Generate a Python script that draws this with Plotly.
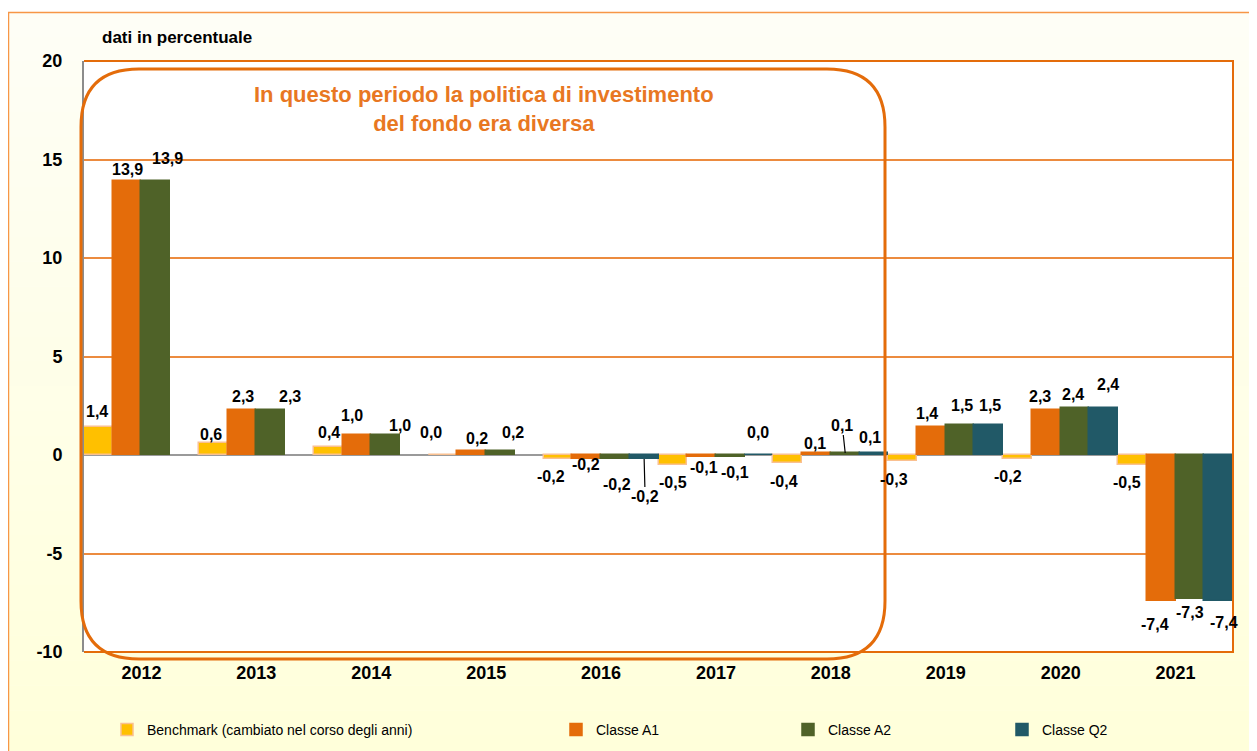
import plotly.graph_objects as go

years = ["2012", "2013", "2014", "2015", "2016", "2017", "2018", "2019", "2020", "2021"]
benchmark = [1.4, 0.6, 0.4, 0.0, -0.2, -0.5, -0.4, -0.3, -0.2, -0.5]
classe_a1 = [13.9, 2.3, 1.0, 0.2, -0.2, -0.1, 0.1, 1.4, 2.3, -7.4]
classe_a2 = [13.9, 2.3, 1.0, 0.2, -0.2, -0.1, 0.1, 1.5, 2.4, -7.3]
classe_q2 = [None, None, None, None, -0.2, 0.0, 0.1, 1.5, 2.4, -7.4]
y_ticks = [-10, -5, 0, 5, 10, 15, 20]
y_tick_labels = ["-10", "-5", "0", "5", "10", "15", "20"]

series_names = ["Benchmark (cambiato nel corso degli anni)", "Classe A1", "Classe A2", "Classe Q2"]
series_vals = [benchmark, classe_a1, classe_a2, classe_q2]

# ---- styling (not data) ----
fill_cols = ["#FFC000", "#E46C0A", "#4F6228", "#215967"]
line_cols = ["#FAC090", "#E46C0A", "#4F6228", "#215967"]
legend_ids = ["legend", "legend2", "legend3", "legend4"]
# label nudges in pixels (dx right, dy down) relative to the bar end, per series/year
label_nudges = [
    [(-1, -16), (-2, -9), (1, -15), (-12, -23), (-7, 18), (0, 18), (-4, 19), (-9, 19), (-10, 18), (-5, 18)],
    [(0, -12), (1, -13), (-5, -20), (5, -13), (-1, 6), (2, 11), (-1, -10), (-4, -14), (-6, -13), (-6, 24)],
    [(12, -23), (19, -13), (14, -10), (12, -19), (2, 26), (5, 16), (-3, -28), (2, -20), (-2, -13), (0, 14)],
    [(0, 0), (0, 0), (0, 0), (0, 0), (1, 38), (-1, -23), (-4, -16), (1, -20), (4, -23), (5, 22)],
]
leader_lines = {(3, 4), (2, 6)}

OFF = 8  # page body margin
W, H = 1257 - OFF, 751 - OFF
L, R, T, B = 84, 1233, 61, 652  # page pixels of the plot area
FONT = "Liberation Sans, Arial, sans-serif"
ORANGE = "#E46C0A"


def px_x(p):
    return (p - L) / (R - L)


def px_y(p):
    return (B - p) / (B - T)


fig = go.Figure()
for name, vals, fc, lc, lg in zip(series_names, series_vals, fill_cols, line_cols, legend_ids):
    fig.add_trace(go.Bar(
        x=years, y=vals, name=name,
        marker=dict(color=fc, line=dict(color=lc, width=1.5)),
        legend=lg,
    ))

n_cats = len(years)
n_series = len(series_vals)
cat_w = (R - L) / n_cats
bar_w = cat_w / n_series

annotations = []
for k, vals in enumerate(series_vals):
    for i, v in enumerate(vals):
        if v is None:
            continue
        dx, dy = label_nudges[k][i]
        slot = bar_w * (k - (n_series - 1) / 2)
        txt = ("%.1f" % v).replace(".", ",")
        fnt = dict(family=FONT, size=16, color="#000000", weight="bold")
        # x given as the category index of years[i]
        if (k, i) in leader_lines:
            annotations.append(dict(x=i, y=v, xref="x", yref="y", text=txt, xshift=slot,
                                    showarrow=True, ax=dx, ay=dy, arrowhead=0, arrowwidth=1.2,
                                    arrowcolor="#000000", standoff=0, font=fnt))
        else:
            annotations.append(dict(x=i, y=v, xref="x", yref="y", text=txt,
                                    xshift=slot + dx, yshift=-dy, showarrow=False,
                                    xanchor="center", yanchor="middle", font=fnt))

shapes = []
# outer light yellow panel with vertical gradient
n_bands = 30
top_px, bot_px = 12, 760
c_top = (254, 254, 246)
c_bot = (255, 255, 218)
for i in range(n_bands):
    y0 = top_px + (bot_px - top_px) * i / n_bands
    y1 = top_px + (bot_px - top_px) * (i + 1) / n_bands
    t = i / (n_bands - 1)
    col = "rgb(%d,%d,%d)" % tuple(round(a + (b - a) * t) for a, b in zip(c_top, c_bot))
    shapes.append(dict(type="rect", xref="paper", yref="paper", layer="below",
                       x0=px_x(8), x1=px_x(1265), y0=px_y(y1 + 0.5), y1=px_y(y0),
                       fillcolor=col, line=dict(width=0)))
# white plot area on top of the panel
shapes.append(dict(type="rect", xref="paper", yref="paper", layer="below",
                   x0=0, x1=1, y0=0, y1=1, fillcolor="#FFFFFF", line=dict(width=0)))
# outer frame (left and top lines)
shapes.append(dict(type="path", xref="paper", yref="paper", layer="below",
                   path="M %f,%f L %f,%f L %f,%f" % (px_x(8.5), px_y(760), px_x(8.5), px_y(12.5), px_x(1265), px_y(12.5)),
                   line=dict(color="#F79646", width=1.5)))
# plot frame: top, right, bottom in orange
shapes.append(dict(type="path", xref="paper", yref="paper", layer="above",
                   path="M %f,%f L %f,%f L %f,%f L %f,%f" % (0, 1, 1, 1, 1, 0, 0, 0),
                   line=dict(color=ORANGE, width=2)))
# rounded rectangle highlight
x0, x1, y0, y1, r = 81, 885, 69, 659, 58
path = "M %f,%f" % (px_x(x0 + r), px_y(y0))
path += " L %f,%f" % (px_x(x1 - r), px_y(y0))
path += " Q %f,%f %f,%f" % (px_x(x1), px_y(y0), px_x(x1), px_y(y0 + r))
path += " L %f,%f" % (px_x(x1), px_y(y1 - r))
path += " Q %f,%f %f,%f" % (px_x(x1), px_y(y1), px_x(x1 - r), px_y(y1))
path += " L %f,%f" % (px_x(x0 + r), px_y(y1))
path += " Q %f,%f %f,%f" % (px_x(x0), px_y(y1), px_x(x0), px_y(y1 - r))
path += " L %f,%f" % (px_x(x0), px_y(y0 + r))
path += " Q %f,%f %f,%f Z" % (px_x(x0), px_y(y0), px_x(x0 + r), px_y(y0))
shapes.append(dict(type="path", xref="paper", yref="paper", layer="above",
                   path=path, line=dict(color=ORANGE, width=3)))

annotations += [
    dict(text="dati in percentuale", xref="paper", yref="paper", x=px_x(100), y=px_y(37),
         xanchor="left", yanchor="middle", showarrow=False,
         font=dict(family=FONT, size=17, color="#000000", weight="bold")),
    dict(text="In questo periodo la politica di investimento<br>del fondo era diversa",
         xref="paper", yref="paper", x=px_x(484), y=px_y(109), xanchor="center", yanchor="middle",
         showarrow=False, align="center",
         font=dict(family=FONT, size=22, color="#E87722", weight="bold")),
]

leg_common = dict(orientation="h", xanchor="left", yanchor="middle", bgcolor="rgba(0,0,0,0)",
                  font=dict(family=FONT, size=14, color="#000000"), itemwidth=30)
legend_x_px = [107, 556, 788, 1002]

fig.update_layout(
    width=W, height=H,
    margin=dict(l=L - OFF, r=W - (R - OFF), t=T - OFF, b=H - (B - OFF), autoexpand=False),
    paper_bgcolor="#FFFFFF", plot_bgcolor="#FFFFFF",
    barmode="group", bargap=0, bargroupgap=0,
    separators=",.",
    showlegend=True,
    shapes=shapes, annotations=annotations,
    xaxis=dict(type="category", range=[-0.5, len(years) - 0.5], showgrid=False, showline=False,
               ticks="", ticklabelstandoff=8,
               tickfont=dict(family=FONT, size=18, color="#000000", weight="bold")),
    yaxis=dict(range=[-10, 20], tickvals=y_ticks, ticktext=y_tick_labels,
               showgrid=True, gridcolor="#EC8B3F", gridwidth=1.5,
               zeroline=True, zerolinecolor="#9A9A9A", zerolinewidth=2,
               showline=True, linecolor="#8C8C8C", linewidth=2, ticks="", ticklabelstandoff=16,
               tickfont=dict(family=FONT, size=18, color="#000000", weight="bold")),
    legend=dict(x=px_x(legend_x_px[0]), y=px_y(730), **leg_common),
    legend2=dict(x=px_x(legend_x_px[1]), y=px_y(730), **leg_common),
    legend3=dict(x=px_x(legend_x_px[2]), y=px_y(730), **leg_common),
    legend4=dict(x=px_x(legend_x_px[3]), y=px_y(730), **leg_common),
)

fig.write_html("out.html")
